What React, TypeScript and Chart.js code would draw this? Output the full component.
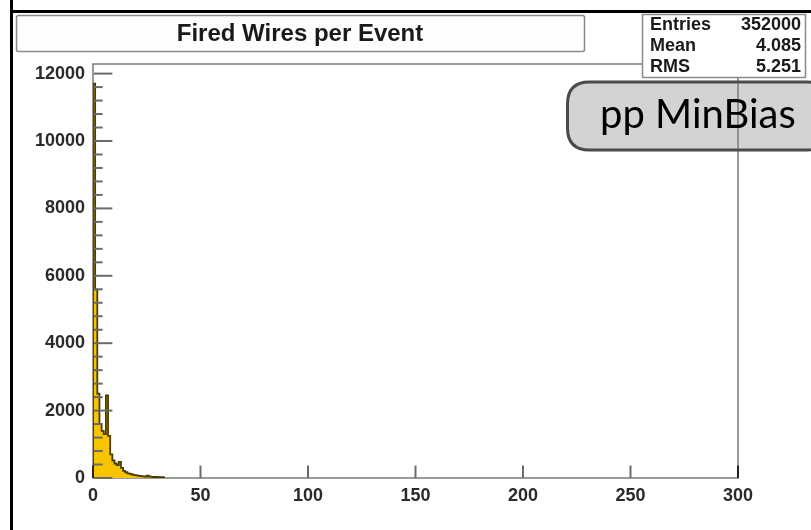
import React, { useEffect, useRef } from "react";
import { Chart, registerables } from "chart.js";

Chart.register(...registerables);

// ---- data ----
const binWidth = 1;
const binCounts = [
  11700, 5600, 2500, 1600, 1400, 1300, 2450, 1250, 700, 520,
  430, 380, 480, 300, 210, 170, 140, 120, 100, 85,
  75, 65, 55, 50, 45, 70, 40, 35, 30, 30,
  28, 25, 22,
];
const xTickValues = [0, 50, 100, 150, 200, 250, 300];
const yTickValues = [0, 2000, 4000, 6000, 8000, 10000, 12000];
const yMinorPerMajor = 5;
const xMin = 0;
const xMax = 300;
const yMax = 12285;
const titleText = "Fired Wires per Event";
const statLabels = ["Entries", "Mean", "RMS"];
const statValues = ["352000", "4.085", "5.251"];
const tagText = "pp MinBias";

const W = 811;
const H = 530;

function buildPoints() {
  // bin edges: value of bin i held from i*binWidth to (i+1)*binWidth
  const pts: { x: number; y: number }[] = [{ x: 0, y: 0 }];
  binCounts.forEach((c, i) => pts.push({ x: i * binWidth, y: c }));
  pts.push({ x: binCounts.length * binWidth, y: 0 });
  return pts;
}

function roundRect(ctx: CanvasRenderingContext2D, x: number, y: number, w: number, h: number, r: number) {
  ctx.beginPath();
  ctx.moveTo(x + r, y);
  ctx.lineTo(x + w - r, y);
  ctx.quadraticCurveTo(x + w, y, x + w, y + r);
  ctx.lineTo(x + w, y + h - r);
  ctx.quadraticCurveTo(x + w, y + h, x + w - r, y + h);
  ctx.lineTo(x + r, y + h);
  ctx.quadraticCurveTo(x, y + h, x, y + h - r);
  ctx.lineTo(x, y + r);
  ctx.quadraticCurveTo(x, y, x + r, y);
  ctx.closePath();
}

const FONT = '"Liberation Sans", Arial, Helvetica, sans-serif';

const overlay = {
  id: "rootOverlay",
  beforeDraw(chart: any) {
    const ctx: CanvasRenderingContext2D = chart.ctx;
    ctx.save();
    ctx.fillStyle = "#ffffff";
    ctx.fillRect(0, 0, W, H);
    // black slide border
    ctx.fillStyle = "#000";
    ctx.fillRect(10, 0, 3, H);
    ctx.fillRect(10, 10, W - 10, 3);
    // title box
    roundRect(ctx, 16.5, 15.5, 568, 36, 2);
    ctx.fillStyle = "#fdfdfd";
    ctx.fill();
    ctx.strokeStyle = "#8a8a8a";
    ctx.lineWidth = 1.5;
    ctx.stroke();
    ctx.fillStyle = "#1a1a1a";
    ctx.font = `bold 24px ${FONT}`;
    ctx.textAlign = "center";
    ctx.textBaseline = "middle";
    ctx.fillText(titleText, 300, 34);
    ctx.restore();
  },
  beforeDatasetsDraw(chart: any) {
    const ctx: CanvasRenderingContext2D = chart.ctx;
    const a = chart.chartArea;
    ctx.save();
    ctx.strokeStyle = "#7a7a7a";
    ctx.lineWidth = 1.5;
    ctx.strokeRect(a.left, a.top, a.right - a.left, a.bottom - a.top);
    ctx.restore();
  },
  afterDatasetsDraw(chart: any) {
    const ctx: CanvasRenderingContext2D = chart.ctx;
    const a = chart.chartArea;
    const xs = chart.scales.x;
    const ys = chart.scales.y;
    ctx.save();
    // y ticks (inside)
    const plotW = a.right - a.left;
    const plotH = a.bottom - a.top;
    const yMajLen = plotW * 0.03;
    const xMajLen = plotH * 0.03;
    ctx.strokeStyle = "#6a6a6a";
    ctx.lineWidth = 2;
    const yStep = yTickValues[1] - yTickValues[0];
    ys.ticks.forEach((t: any) => {
      const v = t.value;
      const py = ys.getPixelForValue(v);
      ctx.beginPath();
      ctx.moveTo(a.left + 1, py);
      ctx.lineTo(a.left + yMajLen, py);
      ctx.stroke();
      for (let k = 1; k < yMinorPerMajor; k++) {
        const mv = v + (k * yStep) / yMinorPerMajor;
        if (mv > ys.max) break;
        const my = ys.getPixelForValue(mv);
        ctx.beginPath();
        ctx.moveTo(a.left + 1, my);
        ctx.lineTo(a.left + yMajLen / 2, my);
        ctx.stroke();
      }
    });
    // x ticks (inside)
    xs.ticks.forEach((t: any) => {
      const px = xs.getPixelForValue(t.value);
      ctx.strokeStyle = t.value === xMin || t.value === xMax ? "#222" : "#6a6a6a";
      ctx.beginPath();
      ctx.moveTo(px, a.bottom);
      ctx.lineTo(px, a.bottom - xMajLen);
      ctx.stroke();
    });
    // pp MinBias tag
    roundRect(ctx, 567.5, 82, 262, 68, 22);
    ctx.fillStyle = "#d3d3d3";
    ctx.fill();
    ctx.strokeStyle = "#4a4a4a";
    ctx.lineWidth = 3;
    ctx.stroke();
    // frame line visible through tag
    ctx.strokeStyle = "#7a7a7a";
    ctx.lineWidth = 1.5;
    ctx.beginPath();
    ctx.moveTo(a.right, 83);
    ctx.lineTo(a.right, 149);
    ctx.stroke();
    ctx.fillStyle = "#000";
    ctx.font = `40px Lato, "Open Sans", sans-serif`;
    ctx.textAlign = "left";
    ctx.textBaseline = "alphabetic";
    ctx.fillText(tagText, 600, 128);
    // stats box
    ctx.fillStyle = "#ffffff";
    ctx.fillRect(642, 14, 163, 63);
    ctx.strokeStyle = "#8a8a8a";
    ctx.lineWidth = 1.5;
    ctx.strokeRect(642.5, 14.5, 163, 63);
    ctx.fillStyle = "#1a1a1a";
    ctx.font = `bold 18px ${FONT}`;
    ctx.textBaseline = "middle";
    statLabels.forEach((l, i) => {
      const y = 25 + i * 21;
      ctx.textAlign = "left";
      ctx.fillText(l, 650, y);
      ctx.textAlign = "right";
      ctx.fillText(statValues[i], 801, y);
    });
    ctx.restore();
  },
};

export default function App() {
  const ref = useRef<HTMLCanvasElement | null>(null);
  useEffect(() => {
    if (!ref.current) return;
    const chart = new Chart(ref.current, {
      type: "line",
      data: {
        datasets: [
          {
            data: buildPoints(),
            stepped: "before",
            borderColor: "#4a3c00",
            borderWidth: 1.8,
            backgroundColor: "#f8c400",
            fill: "origin",
            pointRadius: 0,
            tension: 0,
          } as any,
        ],
      },
      options: {
        animation: false,
        responsive: false,
        maintainAspectRatio: false,
        layout: { padding: { top: 64, right: 73, left: 0, bottom: 0 } },
        plugins: { legend: { display: false }, tooltip: { enabled: false }, title: { display: false } },
        scales: {
          x: {
            type: "linear",
            min: xMin,
            max: xMax,
            grid: { display: false, drawTicks: false },
            border: { display: false },
            afterBuildTicks: (s: any) => {
              s.ticks = xTickValues.map((v) => ({ value: v }));
            },
            ticks: {
              padding: 7,
              color: "#2a2a2a",
              font: { family: FONT, size: 18, weight: "bold" },
              maxRotation: 0,
              autoSkip: false,
              callback: (v: any) => String(v),
            },
            afterFit: (s: any) => {
              s.height = H - 478;
            },
          },
          y: {
            type: "linear",
            min: 0,
            max: yMax,
            grid: { display: false, drawTicks: false },
            border: { display: false },
            afterBuildTicks: (s: any) => {
              s.ticks = yTickValues.map((v) => ({ value: v }));
            },
            ticks: {
              padding: 8,
              color: "#2a2a2a",
              font: { family: FONT, size: 18, weight: "bold" },
              autoSkip: false,
              callback: (v: any) => String(v),
            },
            afterFit: (s: any) => {
              s.width = 93;
            },
          },
        },
      } as any,
      plugins: [overlay],
    });
    return () => chart.destroy();
  }, []);
  return (
    <div style={{ position: "fixed", left: 0, top: 0, width: W, height: H, background: "#fff" }}>
      <canvas ref={ref} width={W} height={H} style={{ display: "block", width: W, height: H }} />
    </div>
  );
}
